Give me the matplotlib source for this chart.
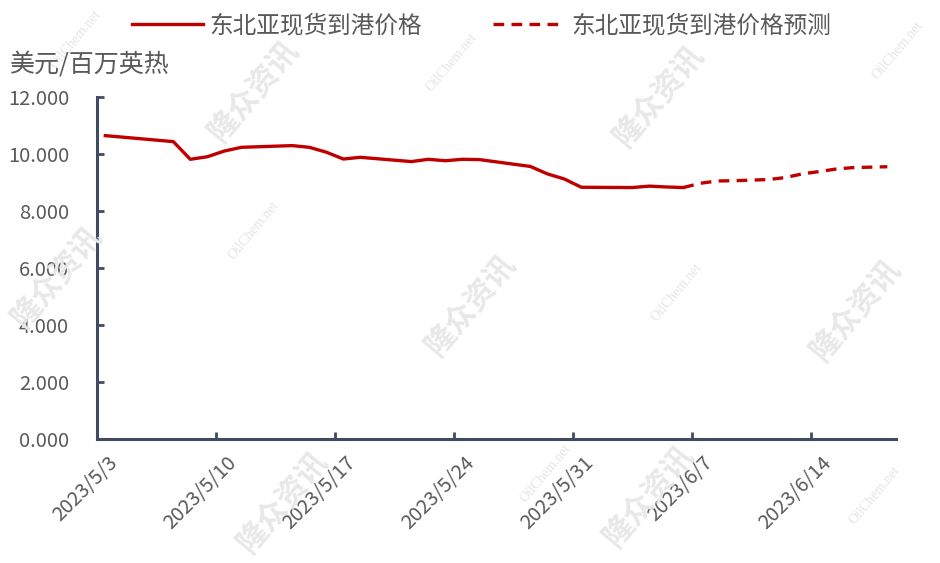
import matplotlib
matplotlib.use("Agg")
import matplotlib.dates as mdates
import matplotlib.pyplot as plt
import matplotlib.transforms as mtransforms
import pandas as pd

plt.rcParams['font.family'] = ['Noto Sans CJK SC', 'DejaVu Sans']

# Spot price (solid) and forecast (dashed), USD/MMBtu
spot_dates = ['2023-05-03', '2023-05-07', '2023-05-08', '2023-05-09', '2023-05-10',
              '2023-05-11', '2023-05-14', '2023-05-15', '2023-05-16', '2023-05-17',
              '2023-05-18', '2023-05-21', '2023-05-22', '2023-05-23', '2023-05-24',
              '2023-05-25', '2023-05-26', '2023-05-28', '2023-05-29', '2023-05-30',
              '2023-05-31', '2023-06-03', '2023-06-04', '2023-06-05', '2023-06-06']
spot_values = [10.64, 10.43, 9.81, 9.90, 10.10,
               10.23, 10.29, 10.23, 10.06, 9.82,
               9.88, 9.73, 9.81, 9.76, 9.81,
               9.80, 9.72, 9.56, 9.30, 9.12,
               8.83, 8.82, 8.87, 8.84, 8.82]

fcst_dates = ['2023-06-06', '2023-06-07', '2023-06-08', '2023-06-09', '2023-06-11',
              '2023-06-12', '2023-06-13', '2023-06-14', '2023-06-15', '2023-06-16',
              '2023-06-18']
fcst_values = [8.82, 8.97, 9.05, 9.06, 9.10,
               9.17, 9.30, 9.38, 9.47, 9.52,
               9.55]

tick_dates = ['2023-05-03', '2023-05-10', '2023-05-17', '2023-05-24',
              '2023-05-31', '2023-06-07', '2023-06-14']
tick_labels = ['2023/5/3', '2023/5/10', '2023/5/17', '2023/5/24',
               '2023/5/31', '2023/6/7', '2023/6/14']
axis_start, axis_end = '2023-05-03', '2023-06-19'

label_spot = '东北亚现货到港价格'
label_fcst = '东北亚现货到港价格预测'
unit_label = '美元/百万英热'

RED = '#C00000'
AXIS = '#3E4B63'
TEXT = '#595959'


def to_num(dates):
    # Excel date axis: each point sits in the middle of its day slot
    return mdates.date2num(pd.to_datetime(dates)) + 0.5


fig = plt.figure(figsize=(9.4, 5.63), dpi=100)
ax = fig.add_axes([0.103, 0.220, 0.850, 0.608])

# watermarks
for x, y in [(0.27, 0.84), (0.70, 0.83), (0.06, 0.51), (0.50, 0.46), (0.91, 0.45),
             (0.30, 0.11), (0.69, 0.12)]:
    fig.text(x, y, '隆众资讯', fontsize=22, fontweight='bold', color='#e8e8e8',
             rotation=50, ha='center', va='center', zorder=0)
for x, y in [(0.08, 0.93), (0.48, 0.89), (0.27, 0.59), (0.72, 0.48), (0.955, 0.91),
             (0.58, 0.16), (0.93, 0.12)]:
    fig.text(x, y, 'OilChem.net', fontsize=10, family='Liberation Serif', color='#e5e5e5',
             rotation=50, ha='center', va='center', zorder=0)

ax.plot(to_num(spot_dates), spot_values, color=RED, lw=2.4, label=label_spot,
        solid_joinstyle='round')
ax.plot(to_num(fcst_dates), fcst_values, color=RED, lw=2.4, ls=(0, (3.2, 2.2)),
        label=label_fcst)

ax.set_ylim(0, 12)
ax.set_yticks([0, 2, 4, 6, 8, 10, 12])
ax.set_yticklabels([f'{v:.3f}' for v in [0, 2, 4, 6, 8, 10, 12]])
ax.set_xlim(mdates.date2num(pd.to_datetime(axis_start)),
            mdates.date2num(pd.to_datetime(axis_end)))
ax.set_xticks(mdates.date2num(pd.to_datetime(tick_dates)))
ax.set_xticklabels(tick_labels, rotation=45, ha='right', va='center',
                   rotation_mode='anchor')

ax.patch.set_alpha(0)
for s in ['top', 'right']:
    ax.spines[s].set_visible(False)
for s in ['left', 'bottom']:
    ax.spines[s].set_color(AXIS)
    ax.spines[s].set_linewidth(2.2)
ax.tick_params(axis='both', direction='in', length=5, width=2, color=AXIS,
               labelcolor=TEXT, labelsize=14.5)
ax.tick_params(axis='y', pad=20)
ax.tick_params(axis='x', pad=15)

offset = mtransforms.ScaledTranslation(13 / 72, 0, fig.dpi_scale_trans)
for lbl in ax.get_xticklabels():
    lbl.set_transform(lbl.get_transform() + offset)

fig.text(0.011, 0.885, unit_label, fontsize=18, color=TEXT, ha='left', va='center')

fig.legend(loc='center', bbox_to_anchor=(0.512, 0.955), ncol=2, frameon=False,
           fontsize=17, labelcolor=TEXT, handlelength=3.0, handletextpad=0.3,
           columnspacing=3.0)

fig.savefig('out.png', dpi=100)
